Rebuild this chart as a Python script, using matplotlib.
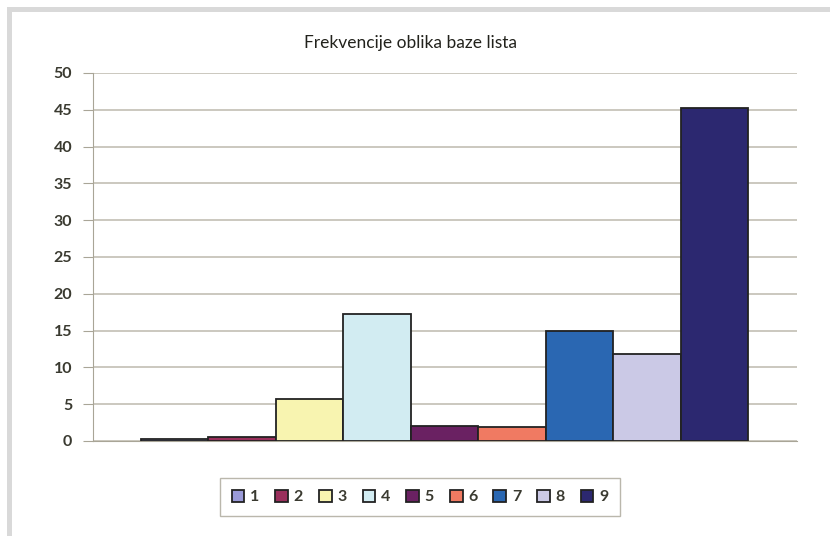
import matplotlib
matplotlib.use('Agg')
from matplotlib import pyplot as plt
from matplotlib.patches import Rectangle

# one category, nine series (shape classes)
labels = ['1', '2', '3', '4', '5', '6', '7', '8', '9']
values = [0.3, 0.6, 5.7, 17.3, 2.0, 1.9, 15.0, 11.8, 45.3]
colors = ['#9a9ad8', '#9a2f5c', '#f8f4b0', '#d2ecf2', '#6a2162',
          '#f07a62', '#2a67b2', '#cbc9e6', '#2c2870']
yticks = [0, 5, 10, 15, 20, 25, 30, 35, 40, 45, 50]

plt.rcParams['font.family'] = ['Lato', 'DejaVu Sans']

fig = plt.figure(figsize=(8.3, 5.36), dpi=100)
# grey frame as in the source screenshot
fig.patches.append(Rectangle((7/830, 0), 5/830, 1 - 7/536, transform=fig.transFigure,
                             facecolor='#d9d9d9', edgecolor='none'))
fig.patches.append(Rectangle((7/830, 1 - 12/536), 1, 5/536, transform=fig.transFigure,
                             facecolor='#d9d9d9', edgecolor='none'))

ax = fig.add_axes([93/830, 1 - 441/536, 704/830, 368/536])
for i, (lab, v, c) in enumerate(zip(labels, values, colors)):
    ax.bar(i, v, width=1.0, color=c, edgecolor='#222222', linewidth=1.3,
           label=lab, zorder=3)

ax.set_xlim(-1.21, 9.22)
ax.set_ylim(0, 50)
ax.set_yticks(yticks)
ax.set_yticklabels([str(t) for t in yticks], fontsize=11.5, fontweight='bold',
                   color='#3a3a30')
ax.set_xticks([])
ax.yaxis.grid(True, color='#bdb9ad', linewidth=1.1, zorder=0)
for s in ['top', 'right']:
    ax.spines[s].set_visible(False)
ax.spines['left'].set_color('#a9a597')
ax.spines['bottom'].set_color('#a9a597')
ax.tick_params(axis='y', length=7, color='#a9a597', pad=8)

fig.text(410/830, 1 - 43/536, 'Frekvencije oblika baze lista', ha='center',
         va='center', fontsize=12.5, color='#22221c')

leg = fig.legend(loc='center', bbox_to_anchor=(420/830, 1 - 497/536), ncol=9,
                 fontsize=11.5, frameon=True, fancybox=False, handlelength=0.8,
                 handleheight=0.8, handletextpad=0.35, columnspacing=1.0,
                 borderpad=0.75)
leg.get_frame().set_edgecolor('#a9a597')
leg.get_frame().set_linewidth(1.0)
for t in leg.get_texts():
    t.set_fontweight('bold')
    t.set_color('#3a3a30')

fig.savefig('out.png', dpi=100)
